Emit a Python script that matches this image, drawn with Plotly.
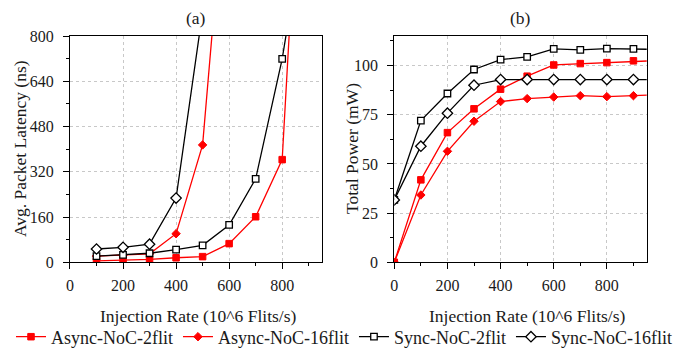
import plotly.graph_objects as go

# Latency (panel a)
lat_x = [100, 200, 300, 400, 500, 600, 700, 800, 900]
lat_async_2 = [5, 8, 10, 16, 20, 66, 161, 363, 2040]
lat_async16_x = [100, 200, 300, 400, 500, 600]
lat_async_16 = [22, 25, 30, 101, 415, 1515]
lat_sync_2 = [22, 26, 32, 45, 60, 132, 295, 719, 1298]
lat_sync16_x = [100, 200, 300, 400, 500]
lat_sync_16 = [47, 53, 64, 227, 886]

# Power (panel b)
pow_x = [0, 100, 200, 300, 400, 500, 600, 700, 800, 900, 1000]
pow_async_2 = [0, 41.9, 65.9, 78, 88, 94.6, 100.3, 101, 101.5, 102.4, 102.6]
pow_async_16 = [0, 34.2, 56.4, 71.7, 81.7, 83.2, 84, 84.7, 84.2, 84.7, 85.2]
pow_sync_2 = [31.7, 72, 85.8, 98, 103, 104.4, 108.5, 108, 108.6, 108.5, 108.2]
pow_sync_16 = [31.7, 59, 75.8, 90, 92.9, 92.9, 92.9, 92.9, 92.9, 92.9, 92.9]

names = ["Async-NoC-2flit", "Async-NoC-16flit", "Sync-NoC-2flit", "Sync-NoC-16flit"]
lat_title = "Avg. Packet Latency (ns)"
pow_title = "Total Power (mW)"
x_title = "Injection Rate (10^6 Flits/s)"

RED = "#ff0000"
BLK = "#000000"
FONT = '"Liberation Serif", "Times New Roman", Times, serif'
TXT = "#1a1a1a"
TICK_SIZE = 16
TITLE_SIZE = 17.5

styles = [
    dict(line=dict(color=RED, width=1.3), marker=dict(symbol="square", size=6.5, color=RED, line=dict(color=RED, width=1))),
    dict(line=dict(color=RED, width=1.3), marker=dict(symbol="diamond", size=6.5, color=RED, line=dict(color=RED, width=1))),
    dict(line=dict(color=BLK, width=1.3), marker=dict(symbol="square", size=6.5, color="white", line=dict(color=BLK, width=1.3))),
    dict(line=dict(color=BLK, width=1.3), marker=dict(symbol="diamond", size=8, color="white", line=dict(color=BLK, width=1.3))),
]

fig = go.Figure()

lat_series = [(lat_x, lat_async_2), (lat_async16_x, lat_async_16), (lat_x, lat_sync_2), (lat_sync16_x, lat_sync_16)]
pow_series = [pow_async_2, pow_async_16, pow_sync_2, pow_sync_16]

for i, (xs, ys) in enumerate(lat_series):
    fig.add_trace(go.Scatter(x=xs, y=ys, mode="lines+markers", name=names[i],
                             xaxis="x", yaxis="y", showlegend=True, cliponaxis=True, **styles[i]))
for i, ys in enumerate(pow_series):
    fig.add_trace(go.Scatter(x=pow_x, y=ys, mode="lines+markers", name=names[i],
                             xaxis="x2", yaxis="y2", showlegend=False, cliponaxis=True, **styles[i]))

axis_common = dict(
    showline=True, linecolor="black", linewidth=1, mirror=True,
    ticks="outside", ticklen=6, tickcolor="black", tickwidth=1,
    showgrid=True, gridcolor="#c8c8c8", griddash="dot", gridwidth=1,
    zeroline=False, automargin=False,
    tickfont=dict(family=FONT, size=TICK_SIZE, color=TXT),
)
xminor = dict(dtick=100, ticks="outside", ticklen=3, tickcolor="black", showgrid=False)

ydom = [0.2506, 0.897]
ymid = 1 - 149 / 350


def txt(text, x, y, angle=0):
    return dict(text=text, x=x / 688, y=y, xref="paper", yref="paper", showarrow=False,
                xanchor="center", yanchor="middle", textangle=angle,
                font=dict(family=FONT, size=TITLE_SIZE, color=TXT))


fig.update_layout(
    width=688, height=350,
    margin=dict(l=0, r=0, t=0, b=0, autoexpand=False),
    paper_bgcolor="white", plot_bgcolor="white",
    font=dict(family=FONT, size=TITLE_SIZE, color=TXT),
    xaxis=dict(domain=[0.1017, 0.468], range=[0, 950], dtick=200, tick0=0, minor=xminor,
               anchor="y", ticklabelstandoff=3, **axis_common),
    yaxis=dict(domain=ydom, range=[0, 800], dtick=160, tick0=0,
               minor=dict(dtick=80, ticks="outside", ticklen=3, tickcolor="black", showgrid=False),
               anchor="x", ticklabelstandoff=6, **axis_common),
    xaxis2=dict(domain=[0.5731, 0.9400], range=[0, 950], dtick=200, tick0=0, minor=xminor,
                anchor="y2", ticklabelstandoff=3, **axis_common),
    yaxis2=dict(domain=ydom, range=[0, 115], dtick=25, tick0=0,
                minor=dict(dtick=12.5, ticks="outside", ticklen=3, tickcolor="black", showgrid=False),
                anchor="x2", ticklabelstandoff=6, **axis_common),
    legend=dict(orientation="h", x=0.5, xanchor="center", y=1 - 337 / 350, yanchor="middle",
                font=dict(family=FONT, size=18, color=TXT), bgcolor="rgba(0,0,0,0)",
                itemwidth=30, tracegroupgap=0),
    annotations=[
        txt("(a)", 196, 1 - 18 / 350),
        txt("(b)", 520, 1 - 18 / 350),
        txt(x_title, 198, 1 - 316 / 350),
        txt(x_title, 527, 1 - 316 / 350),
        txt(lat_title, 20, ymid, -90),
        txt(pow_title, 352, ymid, -90),
    ],
)

fig.write_html("out.html", config={"displayModeBar": False},
               post_script="document.body.style.margin='0';")
